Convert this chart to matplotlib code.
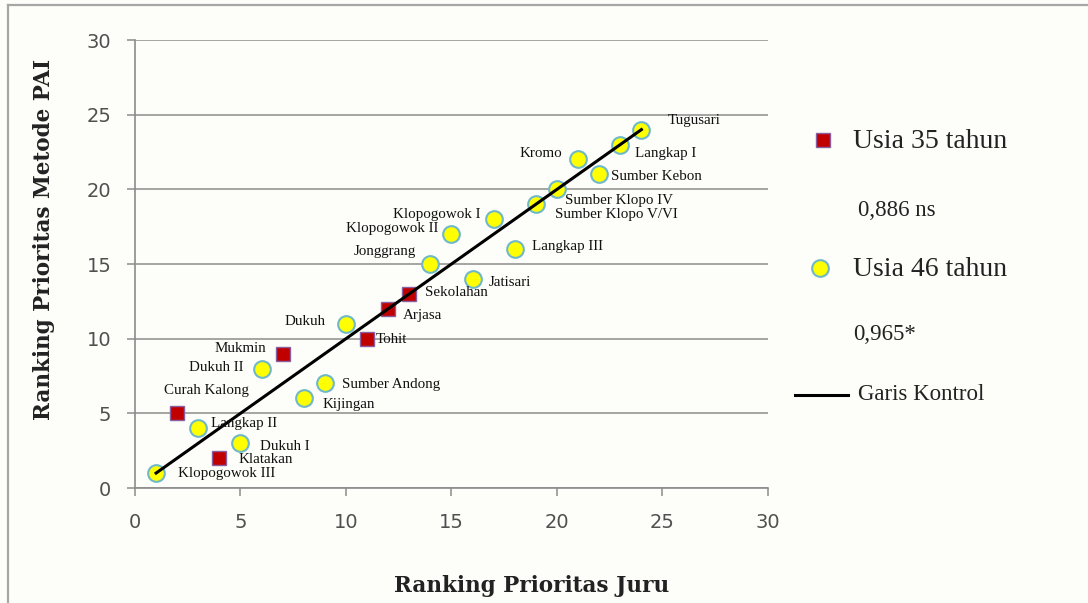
import matplotlib
matplotlib.use("Agg")
import matplotlib.pyplot as plt
from matplotlib.lines import Line2D

W, H = 1088, 603
BG = "#fdfdf9"
GRID = "#8c8c8c"

# Usia 35 tahun (squares)
names_35 = ["Curah Kalong", "Klatakan", "Mukmin", "Tohit", "Arjasa", "Sekolahan"]
juru_35 = [2, 4, 7, 11, 12, 13]
pai_35 = [5, 2, 9, 10, 12, 13]

# Usia 46 tahun (circles)
names_46 = ["Klopogowok III", "Langkap II", "Dukuh I", "Dukuh II", "Kijingan",
            "Sumber Andong", "Dukuh", "Jonggrang", "Klopogowok II", "Jatisari",
            "Klopogowok I", "Langkap III", "Sumber Klopo V/VI", "Sumber Klopo IV",
            "Kromo", "Sumber Kebon", "Langkap I", "Tugusari"]
juru_46 = [1, 3, 5, 6, 8, 9, 10, 14, 15, 16, 17, 18, 19, 20, 21, 22, 23, 24]
pai_46 = [1, 4, 3, 8, 6, 7, 11, 15, 17, 14, 18, 16, 19, 20, 22, 21, 23, 24]

# control line endpoints
control_x = [1, 24]
control_y = [1, 24]

corr_35 = "0,886 ns"
corr_46 = "0,965*"

# label offsets in pixels (dx, dy, ha)
label_pos = {
    "Curah Kalong": (-13, 23, "left"), "Klatakan": (19, -1, "left"),
    "Mukmin": (-16, 5, "right"), "Tohit": (9, -1, "left"),
    "Arjasa": (15, -7, "left"), "Sekolahan": (16, 1, "left"),
    "Klopogowok III": (22, 0, "left"), "Langkap II": (13, 5, "left"),
    "Dukuh I": (20, -3, "left"), "Dukuh II": (-18, 1, "right"),
    "Kijingan": (19, -6, "left"), "Sumber Andong": (17, -1, "left"),
    "Dukuh": (-20, 2, "right"), "Jonggrang": (-14, 12, "right"),
    "Klopogowok II": (-13, 6, "right"), "Jatisari": (16, -4, "left"),
    "Klopogowok I": (-13, 5, "right"), "Langkap III": (17, 3, "left"),
    "Sumber Klopo V/VI": (19, -10, "left"), "Sumber Klopo IV": (8, -11, "left"),
    "Kromo": (-16, 6, "right"), "Sumber Kebon": (12, -2, "left"),
    "Langkap I": (15, -9, "left"), "Tugusari": (26, 9, "left"),
}


def fx(x):
    return x / W


def fy(y):
    return 1 - y / H


fig = plt.figure(figsize=(W / 100, H / 100), dpi=100, facecolor=BG)

# outer frame: top and left edges only
fig.add_artist(Line2D([fx(8), 1], [fy(5), fy(5)], color="#a6a6a6", lw=1.6))
fig.add_artist(Line2D([fx(8), fx(8)], [fy(5), 0], color="#a6a6a6", lw=1.6))

ax = fig.add_axes([fx(135), fy(488), (768 - 135) / W, (488 - 40) / H])
ax.set_facecolor(BG)
ax.set_xlim(0, 30)
ax.set_ylim(0, 30)
ax.set_xticks(range(0, 31, 5))
ax.set_yticks(range(0, 31, 5))
for s in ("top", "right"):
    ax.spines[s].set_visible(False)
for s in ("left", "bottom"):
    ax.spines[s].set_color(GRID)
    ax.spines[s].set_linewidth(1.2)
ax.yaxis.grid(True, color=GRID, lw=1.1)
ax.set_axisbelow(True)
ax.tick_params(direction="out", length=6, width=1.1, color=GRID,
               labelsize=14, labelcolor="#505050")
ax.tick_params(axis="y", pad=11)
ax.tick_params(axis="x", pad=12)

ax.plot(juru_46, pai_46, "o", ms=12, mfc="#ffff00", mec="#6fb8c8", mew=1.5,
        zorder=3)
ax.plot(juru_35, pai_35, "s", ms=10, mfc="#c00000", mec="#8a5fa0", mew=1.0,
        zorder=3)
ax.plot(control_x, control_y, color="black", lw=2.2, zorder=4)

for names, xs, ys in ((names_35, juru_35, pai_35), (names_46, juru_46, pai_46)):
    for n, x, y in zip(names, xs, ys):
        dx, dy, ha = label_pos[n]
        ax.annotate(n, (x, y), xytext=(dx, dy), textcoords="offset pixels",
                    ha=ha, va="center", fontsize=10.8, family="Liberation Serif",
                    color="#111111", zorder=5)

ax.set_xlabel("Ranking Prioritas Juru", family="DejaVu Serif",
              fontweight="bold", fontsize=15.5, color="#222222", va="center")
ax.xaxis.set_label_coords((532 - 135) / (768 - 135), -(586 - 488) / (488 - 40))
ax.set_ylabel("Ranking Prioritas Metode PAI", family="DejaVu Serif",
              fontweight="bold", fontsize=15.5, color="#222222", va="center")
ax.yaxis.set_label_coords(-(135 - 44) / (768 - 135), (488 - 239) / (488 - 40))

# legend, built by hand
leg_font = dict(family="Liberation Serif", color="#222222", va="center")
fig.add_artist(Line2D([fx(823)], [fy(140)], marker="s", ms=10, mfc="#c00000",
                      mec="#8a5fa0", mew=1.0, ls="none"))
fig.text(fx(853), fy(142), "Usia 35 tahun", fontsize=20, **leg_font)
fig.text(fx(858), fy(210), corr_35, fontsize=16.5, **leg_font)
fig.add_artist(Line2D([fx(820)], [fy(268)], marker="o", ms=12, mfc="#ffff00",
                      mec="#6fb8c8", mew=1.5, ls="none"))
fig.text(fx(853), fy(270), "Usia 46 tahun", fontsize=20, **leg_font)
fig.text(fx(853), fy(335), corr_46, fontsize=16.5, **leg_font)
fig.add_artist(Line2D([fx(795), fx(848)], [fy(395), fy(395)], color="black",
                      lw=2.2))
fig.text(fx(858), fy(395), "Garis Kontrol", fontsize=16.5, **leg_font)

fig.savefig("out.png", dpi=100, facecolor=BG)
